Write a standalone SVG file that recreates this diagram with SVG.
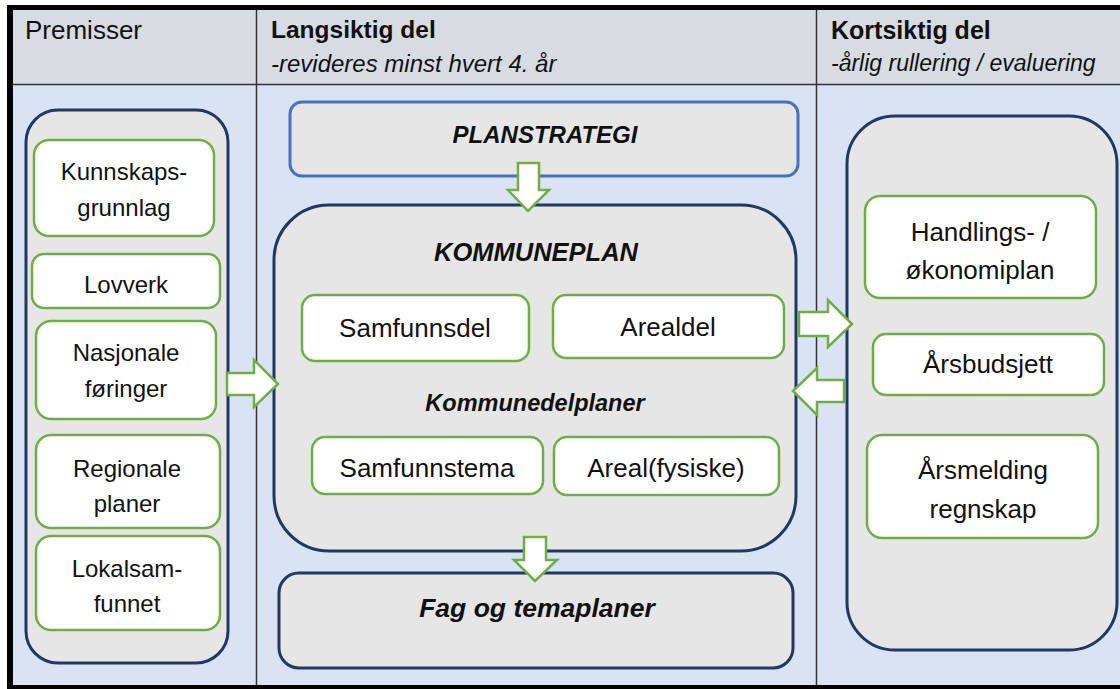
<svg xmlns="http://www.w3.org/2000/svg" width="1120" height="689" viewBox="0 0 1120 689">
<style>
text{font-family:"Liberation Sans",Arial,sans-serif;fill:#111;text-anchor:middle}
.hdr{text-anchor:start}
.b{font-weight:bold}
.i{font-style:italic}
.panel{fill:#e7e6e6;stroke:#1f3864;stroke-width:3}
.box{fill:#fff;stroke:#70ad47;stroke-width:2.5}
.arrow{fill:#fff;stroke:#70ad47;stroke-width:2.5;stroke-linejoin:miter}
.sm{font-size:24px}
.md{font-size:26px}
</style>
<rect x="0" y="0" width="1120" height="689" fill="#fff"/>
<g id="frame">
<rect x="13" y="10" width="1107" height="74" fill="#d7dce3"/>
<rect x="13" y="84" width="1107" height="601" fill="#dae3f3"/>
<line x1="13" y1="84.5" x2="1120" y2="84.5" stroke="#333" stroke-width="1.5"/>
<line x1="256.5" y1="10" x2="256.5" y2="685" stroke="#333" stroke-width="1.5"/>
<line x1="816.5" y1="10" x2="816.5" y2="685" stroke="#333" stroke-width="1.5"/>
<rect x="7" y="5" width="1113" height="5" fill="#000"/>
<rect x="7" y="5" width="6" height="684" fill="#000"/>
<rect x="7" y="685" width="1113" height="4" fill="#000"/>
<text class="hdr" x="25" y="39" font-size="26">Premisser</text>
<text class="hdr b" x="271" y="38" font-size="24.5">Langsiktig del</text>
<text class="hdr i" x="271" y="72" font-size="24">-revideres minst hvert 4. år</text>
<text class="hdr b" x="831" y="39" font-size="25">Kortsiktig del</text>
<text class="hdr i" x="831" y="71" font-size="23">-årlig rullering / evaluering</text>
</g>
<g id="premisser">
<rect class="panel" x="26" y="110" width="202" height="553" rx="32"/>
</g>
<g id="kunnskapsgrunnlag">
<rect class="box" x="34" y="140" width="180" height="96" rx="15"/>
<text class="sm" x="124" y="180">Kunnskaps-</text>
<text class="sm" x="124" y="216">grunnlag</text>
</g>
<g id="lovverk">
<rect class="box" x="32" y="254" width="188" height="54" rx="12"/>
<text class="sm" x="126" y="293">Lovverk</text>
</g>
<g id="nasjonale">
<rect class="box" x="36" y="321" width="180" height="98" rx="15"/>
<text class="sm" x="126" y="361">Nasjonale</text>
<text class="sm" x="126" y="397">føringer</text>
</g>
<g id="regionale">
<rect class="box" x="36" y="435" width="184" height="93" rx="15"/>
<text class="sm" x="127" y="477">Regionale</text>
<text class="sm" x="127" y="512">planer</text>
</g>
<g id="lokalsamfunnet">
<rect class="box" x="36" y="536" width="184" height="94" rx="15"/>
<text class="sm" x="127" y="577">Lokalsam-</text>
<text class="sm" x="127" y="612">funnet</text>
</g>
<g id="planstrategi">
<rect x="290" y="102" width="508" height="74" rx="12" fill="#e7e6e6" stroke="#4472c4" stroke-width="3"/>
<text class="b i" x="545" y="143" font-size="24">PLANSTRATEGI</text>
</g>
<g id="kommuneplan">
<rect class="panel" x="274" y="205" width="522" height="346" rx="55"/>
<text class="b i" x="536" y="261" font-size="25.5">KOMMUNEPLAN</text>
<text class="b i" x="535" y="411" font-size="23.5">Kommunedelplaner</text>
</g>
<g id="samfunnsdel">
<rect class="box" x="302" y="295" width="227" height="66" rx="13"/>
<text class="md" x="415" y="337">Samfunnsdel</text>
</g>
<g id="arealdel">
<rect class="box" x="553" y="295" width="231" height="63" rx="13"/>
<text class="md" x="668" y="336">Arealdel</text>
</g>
<g id="samfunnstema">
<rect class="box" x="312" y="437" width="231" height="57" rx="13"/>
<text class="md" x="427" y="477">Samfunnstema</text>
</g>
<g id="arealfysiske">
<rect class="box" x="554" y="437" width="225" height="58" rx="13"/>
<text class="md" x="666" y="477">Areal(fysiske)</text>
</g>
<g id="fagogtemaplaner">
<rect class="panel" x="279" y="573" width="514" height="95" rx="20"/>
<text class="b i" x="537" y="617" font-size="26.5">Fag og temaplaner</text>
</g>
<g id="kortsiktig">
<rect class="panel" x="847" y="116" width="270" height="534" rx="48"/>
</g>
<g id="handlingsplan">
<rect class="box" x="865" y="196" width="231" height="102" rx="15"/>
<text class="md" x="980" y="241">Handlings- /</text>
<text class="md" x="980" y="279">økonomiplan</text>
</g>
<g id="arsbudsjett">
<rect class="box" x="873" y="334" width="231" height="61" rx="13"/>
<text class="md" x="988" y="373">Årsbudsjett</text>
</g>
<g id="arsmelding">
<rect class="box" x="867" y="435" width="231" height="103" rx="15"/>
<text class="md" x="983" y="479">Årsmelding</text>
<text class="md" x="983" y="518">regnskap</text>
</g>
<g id="connectors">
<polygon class="arrow" points="227,373 254,373 254,360 278,384 254,407 254,395 227,395"/>
<polygon class="arrow" points="518,163 539,163 539,190 549,190 528,211 508,190 518,190"/>
<polygon class="arrow" points="524,537 546,537 546,560 557,560 535,581 514,560 524,560"/>
<polygon class="arrow" points="799,312 828,312 828,300 852,324 828,347 828,336 799,336"/>
<polygon class="arrow" points="844,380 817,380 817,368 793,391 817,415 817,402 844,402"/>
</g>
</svg>
